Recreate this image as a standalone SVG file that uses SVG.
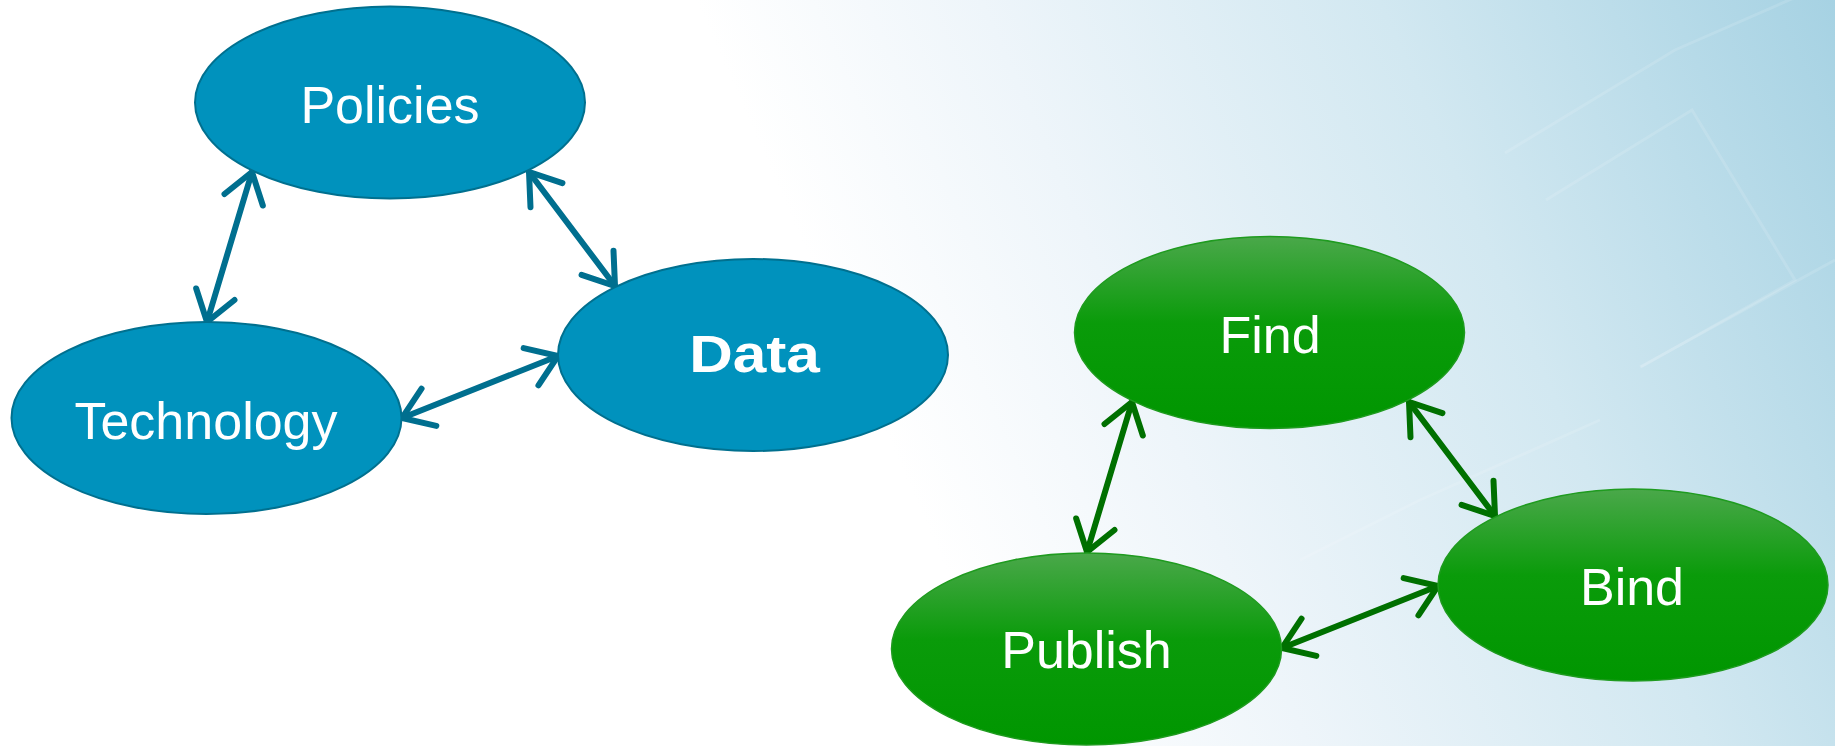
<svg xmlns="http://www.w3.org/2000/svg" width="1835" height="746" viewBox="0 0 1835 746">
  <defs>
    <linearGradient id="bg" x1="880" y1="420" x2="1835" y2="0" gradientUnits="userSpaceOnUse">
      <stop offset="0" stop-color="#FFFFFF"/>
      <stop offset="0.25" stop-color="#EEF5FA"/>
      <stop offset="0.6" stop-color="#D2E8F1"/>
      <stop offset="1" stop-color="#A6D2E3"/>
    </linearGradient>
    <linearGradient id="greenFill" x1="0" y1="0" x2="0" y2="1">
      <stop offset="0" stop-color="#4AA84A"/>
      <stop offset="0.45" stop-color="#0A9B0A"/>
      <stop offset="1" stop-color="#009600"/>
    </linearGradient>
    <marker id="headBlue" markerUnits="userSpaceOnUse" orient="auto-start-reverse" viewBox="-36 -28 42 56" markerWidth="42" markerHeight="56" refX="0" refY="0">
      <path d="M-29,-20 L0,0 L-29,20" fill="none" stroke="#006F8F" stroke-width="6" stroke-linecap="round" stroke-linejoin="miter"/>
    </marker>
    <marker id="headGreen" markerUnits="userSpaceOnUse" orient="auto-start-reverse" viewBox="-36 -28 42 56" markerWidth="42" markerHeight="56" refX="0" refY="0">
      <path d="M-29,-20 L0,0 L-29,20" fill="none" stroke="#007000" stroke-width="6" stroke-linecap="round" stroke-linejoin="miter"/>
    </marker>
  </defs>
  <style>
    .blue { fill: #0092BD; stroke: #00708F; stroke-width: 2; }
    .green { fill: url(#greenFill); stroke: #1F9B1F; stroke-width: 1.5; }
    .label { font-family: "Liberation Sans", Arial, sans-serif; font-size: 52px; fill: #FFFFFF; text-anchor: middle; }
    .bold { font-weight: bold; }
    .cb { fill: none; stroke: #006F8F; stroke-width: 6; stroke-linecap: round; marker-start: url(#headBlue); marker-end: url(#headBlue); }
    .cg { fill: none; stroke: #007000; stroke-width: 6; stroke-linecap: round; marker-start: url(#headGreen); marker-end: url(#headGreen); }
    .deco { fill: none; stroke: #FFFFFF; stroke-opacity: 0.13; stroke-width: 3; }
  </style>

  <rect x="0" y="0" width="1835" height="746" fill="url(#bg)"/>
  <g id="background-decor">
    <path class="deco" d="M1505,153 L1675,50 L1835,-20"/>
    <path class="deco" d="M1546,200 L1692,110 L1795,280 L1641,367"/>
    <path class="deco" d="M1640,367 L1835,260"/>
    <path class="deco" d="M1300,560 L1420,500 L1600,420"/>
  </g>

  <g id="connectors">
    <line class="cb" x1="252" y1="172" x2="207" y2="322"/>
    <line class="cb" x1="529" y1="172" x2="615" y2="286"/>
    <line class="cb" x1="402" y1="418" x2="558" y2="356"/>
    <line class="cg" x1="1132" y1="402" x2="1087" y2="552"/>
    <line class="cg" x1="1409" y1="402" x2="1495" y2="516"/>
    <line class="cg" x1="1282" y1="648" x2="1438" y2="586"/>
  </g>

  <g id="node-policies">
    <ellipse class="blue" cx="390" cy="102.5" rx="195" ry="96"/>
    <text class="label" x="390" y="123">Policies</text>
  </g>
  <g id="node-technology">
    <ellipse class="blue" cx="206.5" cy="418" rx="195" ry="96"/>
    <text class="label" x="206" y="439">Technology</text>
  </g>
  <g id="node-data">
    <ellipse class="blue" cx="753" cy="355" rx="195" ry="96"/>
    <text class="label bold" x="0" y="0" transform="translate(754.5,372) scale(1.16,1)">Data</text>
  </g>
  <g id="node-find">
    <ellipse class="green" cx="1269.5" cy="332.5" rx="195" ry="96"/>
    <text class="label" x="1270" y="353">Find</text>
  </g>
  <g id="node-publish">
    <ellipse class="green" cx="1086.5" cy="649" rx="195" ry="96"/>
    <text class="label" x="1086.5" y="668">Publish</text>
  </g>
  <g id="node-bind">
    <ellipse class="green" cx="1633" cy="585" rx="195" ry="96"/>
    <text class="label" x="1632" y="605">Bind</text>
  </g>
</svg>
